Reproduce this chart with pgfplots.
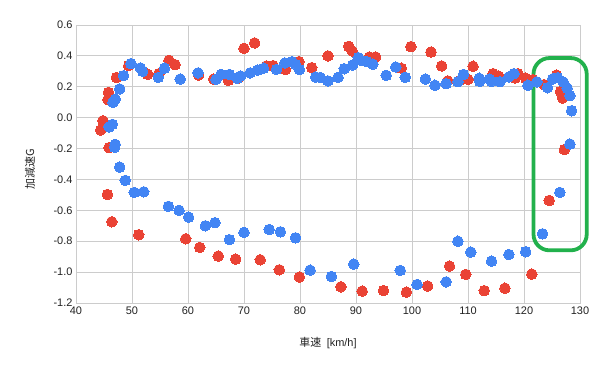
\documentclass[border=0pt]{standalone}
\usepackage{pgfplots}
\pgfplotsset{compat=1.18}
\usepackage{fontspec}
\setmainfont{Liberation Sans}
\newfontfamily\cjk{Noto Sans CJK JP}
\definecolor{gred}{HTML}{EA4335}
\definecolor{gblue}{HTML}{4285F4}
\definecolor{ggreen}{HTML}{22B14C}
\definecolor{ggrid}{HTML}{CCCCCC}
\definecolor{gtext}{HTML}{222222}
\begin{document}
\begin{tikzpicture}
\path (0,0) rectangle (600bp,369bp);
\begin{axis}[
  at={(76bp,66bp)}, anchor=south west,
  scale only axis, width=504bp, height=278bp,
  xmin=40, xmax=130, ymin=-1.2, ymax=0.6,
  xtick={40,50,...,130},
  ytick={-1.2,-1,...,0.6},
  grid=major,
  major grid style={ggrid, line width=0.8bp},
  axis line style={ggrid, line width=0.8bp},
  tick style={draw=none},
  /pgf/number format/assume math mode=true,
  yticklabel={\pgfmathprintnumber[fixed,fixed zerofill,precision=1]{\tick}},
  xticklabel style={font=\fontsize{11}{12}\selectfont, text=gtext},
  yticklabel style={font=\fontsize{11}{12}\selectfont, text=gtext},
  clip=false,
]
\addplot[only marks, mark=*, mark size=5.3bp, color=gred, mark options={draw=gred, fill=gred, line width=0pt}] coordinates {
(44.4,-0.08) (44.8,-0.02) (45.8,0.164) (45.7,0.117) (45.9,-0.194) (45.6,-0.497)
(46.4,-0.674) (47.2,0.26) (49.4,0.337) (51.2,-0.758) (52.8,0.281) (54.8,0.285)
(56.6,0.371) (57.7,0.343) (59.6,-0.784) (61.9,0.276) (62.1,-0.84) (64.6,0.25)
(65.4,-0.896) (67.2,0.242) (68.5,-0.916) (69.0,0.257) (70.0,0.449) (71.9,0.484)
(72.9,-0.92) (74.0,0.335) (75.2,0.337) (76.3,-0.985) (77.4,0.311) (79.8,0.363)
(79.9,-1.032) (82.1,0.324) (85.0,0.40) (87.3,-1.095) (88.7,0.462) (89.3,0.432)
(91.1,-1.123) (92.4,0.393) (93.5,0.393) (94.9,-1.12) (98.1,0.32) (99.0,-1.13)
(99.8,0.46) (102.8,-1.09) (103.4,0.425) (105.3,0.335) (106.4,0.238) (106.7,-0.961)
(108.6,0.242) (109.6,-1.015) (110.0,0.248) (110.9,0.333) (112.9,-1.12) (114.5,0.285)
(115.5,0.268) (116.6,-1.104) (118.4,0.257) (118.9,0.285) (120.3,0.255) (121.4,-1.013)
(121.6,0.246) (123.6,0.214) (124.5,-0.536) (125.8,0.276) (126.5,0.168) (126.9,0.127)
(127.2,-0.207)
};
\addplot[only marks, mark=*, mark size=5.3bp, color=gblue, mark options={draw=gblue, fill=gblue, line width=0pt}] coordinates {
(49.8,0.35) (51.5,0.322) (51.9,0.30) (48.5,0.272) (47.8,0.186) (47.0,0.12)
(46.6,0.10) (46.5,-0.043) (45.9,-0.06) (47.0,-0.173) (46.9,-0.192) (47.8,-0.32)
(48.8,-0.406) (50.4,-0.484) (52.1,-0.48) (54.7,0.261) (55.8,0.32) (56.5,-0.574)
(58.4,-0.60) (58.6,0.25) (60.1,-0.644) (61.8,0.29) (63.1,-0.70) (64.8,-0.68)
(65.0,0.248) (65.9,0.28) (67.4,0.28) (67.4,-0.79) (68.8,0.255) (69.4,0.27)
(71.1,0.29) (72.4,0.307) (73.5,0.32) (75.8,0.313) (77.3,0.354) (78.6,0.363)
(79.2,0.345) (79.9,0.311) (82.8,0.263) (83.6,0.26) (85.0,0.238) (86.8,0.261)
(87.9,0.317) (89.4,0.341) (90.4,0.389) (91.0,0.369) (91.9,0.363) (93.0,0.346)
(95.4,0.274) (97.1,0.328) (70.0,-0.743) (74.5,-0.724) (76.5,-0.739) (79.2,-0.778)
(81.8,-0.987) (85.6,-1.028) (89.6,-0.948) (97.9,-0.989)
(98.8,0.261) (102.4,0.25) (104.1,0.21) (106.1,0.22) (108.2,0.233) (109.2,0.28)
(112.0,0.255) (112.1,0.235) (113.8,0.25) (114.2,0.235) (115.7,0.233) (117.3,0.264)
(118.2,0.285) (120.7,0.21) (122.3,0.231) (124.2,0.194) (125.1,0.25) (126.0,0.259)
(127.0,0.231) (127.7,0.192) (128.2,0.143) (128.5,0.045) (128.2,-0.171) (126.4,-0.484)
(123.3,-0.752) (100.9,-1.08) (106.1,-1.063) (108.2,-0.8) (110.5,-0.87) (114.2,-0.929)
(117.3,-0.886) (120.3,-0.868)
};
\draw[ggreen, line width=3.8bp, rounded corners=16bp] (axis cs:121.7,0.386) rectangle (axis cs:131.2,-0.859);
\end{axis}
\node[rotate=90, font=\fontsize{11}{12}\selectfont, text=gtext] at (30bp,200bp) {\cjk 加減速G};
\node[font=\fontsize{11}{12}\selectfont, text=gtext] at (328bp,26bp) {\cjk 車速\hspace{0.5em}\rmfamily[km/h]};
\end{tikzpicture}
\end{document}
